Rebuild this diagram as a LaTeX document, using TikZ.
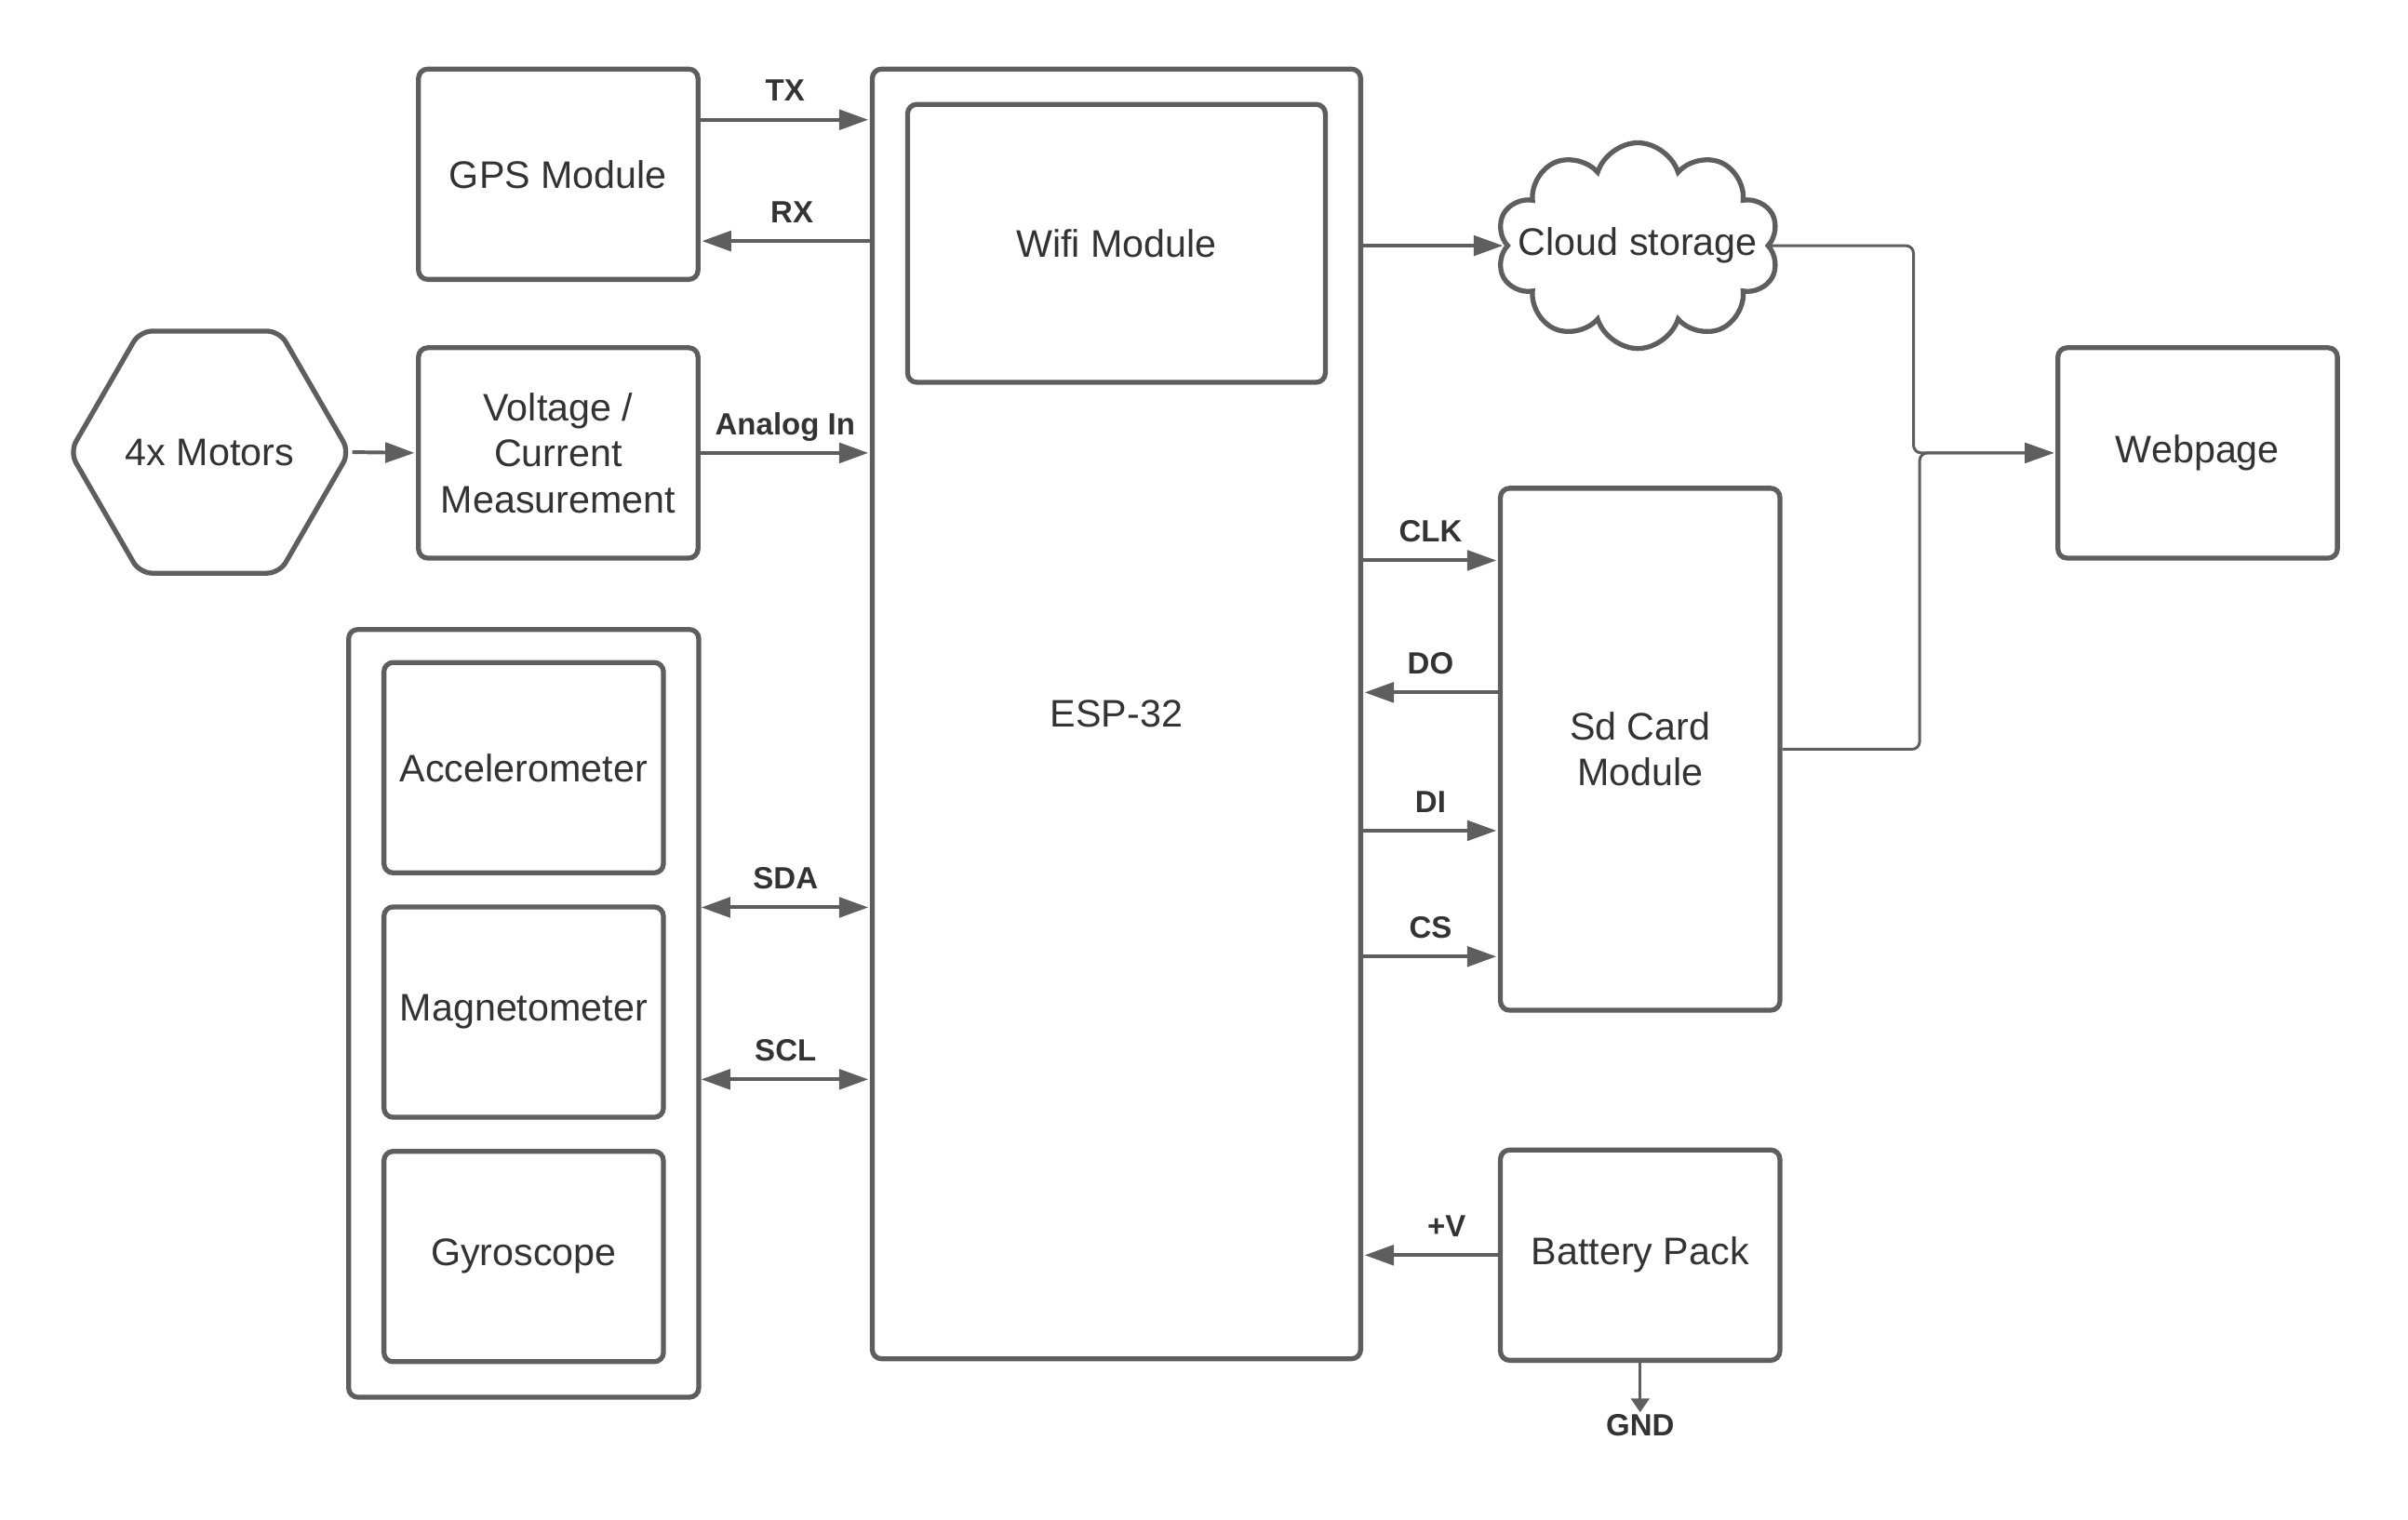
\documentclass[tikz,border=0pt]{standalone}
\usepackage{fontspec}
\setmainfont{Liberation Sans}
\usetikzlibrary{positioning, arrows.meta, shapes.geometric, shapes.symbols}
\definecolor{linegray}{HTML}{5E5E5E}
\definecolor{textgray}{HTML}{333333}

\begin{document}
\begin{tikzpicture}[x=1pt, y=-1pt, >={Triangle[length=19pt, width=13pt]}, shorten >=1pt,
    block/.style={draw=linegray, line width=3.2pt, rounded corners=6pt, text=textgray,
        align=center, font=\fontsize{25}{30}\selectfont, inner sep=0pt},
    unit/.style={block, minimum width=182pt, minimum height=137pt},
    hexa/.style={block, regular polygon, regular polygon sides=6, minimum size=182pt, rounded corners=8pt},
    cloudy/.style={draw=linegray, line width=3.2pt, cloud, cloud puffs=10, cloud puff arc=145,
        aspect=1.35, minimum width=184pt, minimum height=134pt, inner sep=0pt},
    wire/.style={draw=linegray, line width=2.4pt},
    link/.style={draw=linegray, line width=1.8pt, rounded corners=5pt},
    lbl/.style={text=textgray, font=\fontsize{20}{24}\selectfont\bfseries, inner sep=0pt}]
    \useasboundingbox (0,0) rectangle (1568,989.4);

    % main board
    \node[block, minimum width=318pt, minimum height=840pt] (esp) at (727,465) {ESP-32};
    \node[block, minimum width=272pt, minimum height=181pt] (wifi) at (727,158.5) {Wifi Module};

    % left side
    \node[unit] (gps) at (363.5,113.5) {GPS Module};
    \node[unit] (volt) at (363.5,295) {Voltage /\\Current\\Measurement};
    \node[hexa] (motors) at (136.5,294.5) {4x Motors};
    \node[block, minimum width=228pt, minimum height=500pt] (imu) at (341,660) {};
    \node[unit] (accel) at (341,500) {Accelerometer};
    \node[unit] (mag) [below=19pt of accel] {Magnetometer};
    \node[unit] (gyro) [below=19pt of mag] {Gyroscope};

    % right side
    \node[cloudy, label={[block, draw=none]center:Cloud storage}] (cloud) at (1066.5,160) {};
    \node[unit, minimum height=340pt] (sd) at (1068,488) {Sd Card\\Module};
    \node[unit] (batt) at (1068,817.5) {Battery Pack};
    \node[unit] (web) at (1431,295) {Webpage};
    \node[lbl, anchor=base] (gnd) at (1068,935) {GND};

    \path[every edge/.style={wire, ->}]
    (gps.east |- 0,78) edge node[lbl, anchor=base, yshift=12pt] {TX} (esp.west |- 0,78)
    (esp.west |- 0,157) edge node[lbl, anchor=base, yshift=12pt, pos=0.46] {RX} (gps.east |- 0,157)
    (motors.east) edge (volt.west)
    (volt.east) edge node[lbl, anchor=base, yshift=12pt] {Analog In} (esp.west |- volt.east)
    (esp.east |- cloud.west) edge (cloud.west)
    (esp.east |- 0,365) edge node[lbl, anchor=base, yshift=12pt] {CLK} (sd.west |- 0,365)
    (sd.west |- 0,451) edge node[lbl, anchor=base, yshift=12pt] {DO} (esp.east |- 0,451)
    (esp.east |- 0,541) edge node[lbl, anchor=base, yshift=12pt] {DI} (sd.west |- 0,541)
    (esp.east |- 0,623) edge node[lbl, anchor=base, yshift=12pt] {CS} (sd.west |- 0,623)
    (batt.west) edge node[lbl, anchor=base, yshift=12pt, pos=0.38] {+V} (esp.east |- batt.west);

    \path[every edge/.style={wire, <->}]
    (imu.east |- 0,591) edge node[lbl, anchor=base, yshift=12pt] {SDA} (esp.west |- 0,591)
    (imu.east |- 0,703) edge node[lbl, anchor=base, yshift=12pt] {SCL} (esp.west |- 0,703);

    \draw[link, ->] (cloud.east) -| (1246,295) -- (web.west);
    \draw[link, ->] (sd.east) -| (1250,295) -- (web.west);
    \draw[draw=linegray, line width=1.6pt, -{Triangle[length=9pt, width=12pt]}] (batt.south) -- (gnd.north);
\end{tikzpicture}
\end{document}
